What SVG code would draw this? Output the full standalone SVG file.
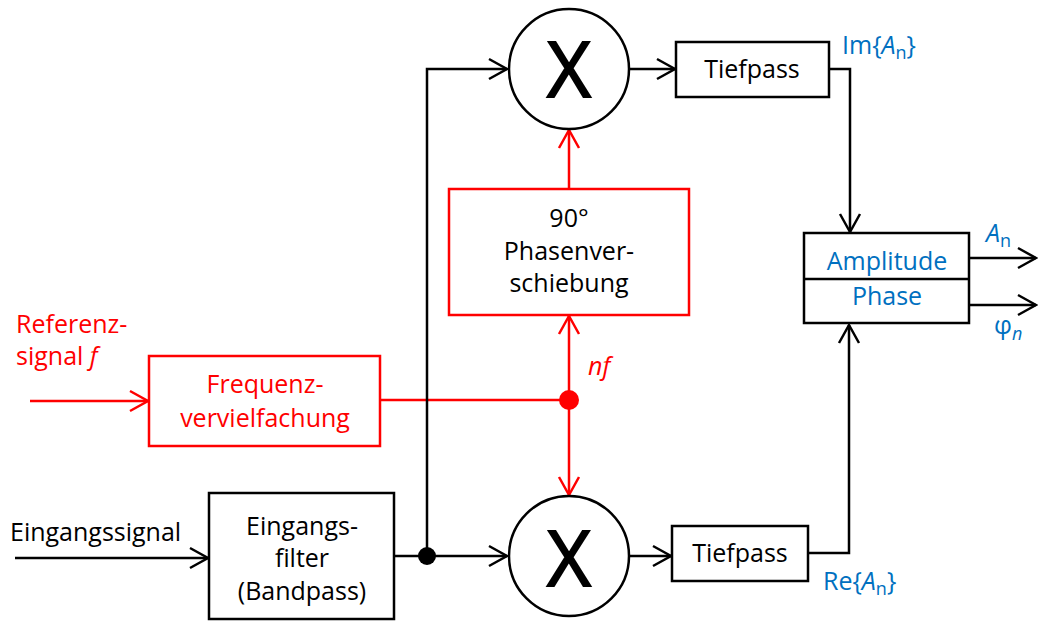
<svg xmlns="http://www.w3.org/2000/svg" width="1038" height="621" viewBox="0 0 1038 621">
<style>
text{font-family:"Open Sans","Liberation Sans",sans-serif;font-size:25px}
.c{text-anchor:middle}
.k{fill:#000}
.r{fill:#FF0000}
.b{fill:#0070C0}
.box{fill:#fff;stroke:#000;stroke-width:2.5}
.rbox{fill:#fff;stroke:#FF0000;stroke-width:2.5}
.lk{fill:none;stroke:#000;stroke-width:2.5}
.lr{fill:none;stroke:#FF0000;stroke-width:2.5}
.big{font-size:76px;stroke:#000;stroke-width:1.8}
.sub{font-size:18px}
</style>
<defs>
<marker id="ak" markerUnits="userSpaceOnUse" markerWidth="24" markerHeight="26" refX="21" refY="12" orient="auto" overflow="visible">
<path d="M3,2 L21,12 L3,22" fill="none" stroke="#000" stroke-width="2.5"/>
</marker>
<marker id="ar" markerUnits="userSpaceOnUse" markerWidth="24" markerHeight="26" refX="21" refY="12" orient="auto" overflow="visible">
<path d="M3,2 L21,12 L3,22" fill="none" stroke="#FF0000" stroke-width="2.5"/>
</marker>
</defs>

<g id="connectors">
<g id="red-connectors">
<path class="lr" d="M30,401 H148" marker-end="url(#ar)"/>
<path class="lr" d="M380,400 H569"/>
<path class="lr" d="M569,400 V316" marker-end="url(#ar)"/>
<path class="lr" d="M569,189 V130" marker-end="url(#ar)"/>
<path class="lr" d="M569,400 V495" marker-end="url(#ar)"/>
</g>
<g id="black-connectors">
<path class="lk" d="M15,558 H208" marker-end="url(#ak)"/>
<path class="lk" d="M394,556 H507" marker-end="url(#ak)"/>
<path class="lk" d="M427,556 V69 H507" marker-end="url(#ak)"/>
<path class="lk" d="M630,69 H675" marker-end="url(#ak)"/>
<path class="lk" d="M630,556 H671" marker-end="url(#ak)"/>
<path class="lk" d="M829,69 H850 V232" marker-end="url(#ak)"/>
<path class="lk" d="M808,553 H849 V325" marker-end="url(#ak)"/>
<path class="lk" d="M969,258 H1036" marker-end="url(#ak)"/>
<path class="lk" d="M969,305 H1036" marker-end="url(#ak)"/>
</g>
<circle id="junction-black" cx="427" cy="556" r="9" fill="#000"/>
<circle id="junction-red" cx="569" cy="400" r="10" fill="#FF0000"/>
</g>

<g id="mixer-top">
<circle cx="569" cy="69" r="60" class="box"/>
<text class="c k big" x="569" y="97">X</text>
</g>
<g id="mixer-bottom">
<circle cx="569" cy="556" r="60" class="box"/>
<text class="c k big" x="569" y="586">X</text>
</g>

<g id="tiefpass-top">
<rect x="676" y="42" width="153" height="55" class="box"/>
<text class="c k" x="752" y="78">Tiefpass</text>
</g>
<g id="tiefpass-bottom">
<rect x="672" y="526" width="136" height="55" class="box"/>
<text class="c k" x="740" y="562">Tiefpass</text>
</g>

<g id="amplitude-phase">
<rect x="804" y="233" width="165" height="90" class="box"/>
<line x1="804" y1="279" x2="969" y2="279" stroke="#000" stroke-width="2.5"/>
<text class="c b" x="887" y="270">Amplitude</text>
<text class="c b" x="887" y="305">Phase</text>
</g>

<g id="phasenverschiebung">
<rect x="449" y="189" width="240" height="126" class="rbox"/>
<text class="c k" x="569" y="227">90°</text>
<text class="c k" x="569" y="260">Phasenver-</text>
<text class="c k" x="569" y="292">schiebung</text>
</g>

<g id="frequenzvervielfachung">
<rect x="149" y="356" width="231" height="90" class="rbox"/>
<text class="c r" x="265" y="393">Frequenz-</text>
<text class="c r" x="265" y="427">vervielfachung</text>
</g>

<g id="eingangsfilter">
<rect x="209" y="493" width="185" height="126" class="box"/>
<text class="c k" x="302" y="535">Eingangs-</text>
<text class="c k" x="302" y="567">filter</text>
<text class="c k" x="302" y="600">(Bandpass)</text>
</g>

<g id="labels">
<text class="k" x="10" y="541">Eingangssignal</text>
<text class="r" x="16" y="333">Referenz-</text>
<text class="r" x="16" y="365">signal <tspan font-style="italic">f</tspan></text>
<text class="r" x="588" y="375" font-style="italic">nf</text>
<text class="b" x="842" y="54">Im{<tspan font-style="italic">A</tspan><tspan class="sub" dy="5">n</tspan><tspan dy="-5">}</tspan></text>
<text class="b" x="823" y="590">Re{<tspan font-style="italic">A</tspan><tspan class="sub" dy="5">n</tspan><tspan dy="-5">}</tspan></text>
<text class="b" x="986" y="242"><tspan font-style="italic">A</tspan><tspan class="sub" dy="5">n</tspan></text>
<text class="b" x="994" y="334">φ<tspan class="sub" font-style="italic" dy="6">n</tspan></text>
</g>
</svg>
